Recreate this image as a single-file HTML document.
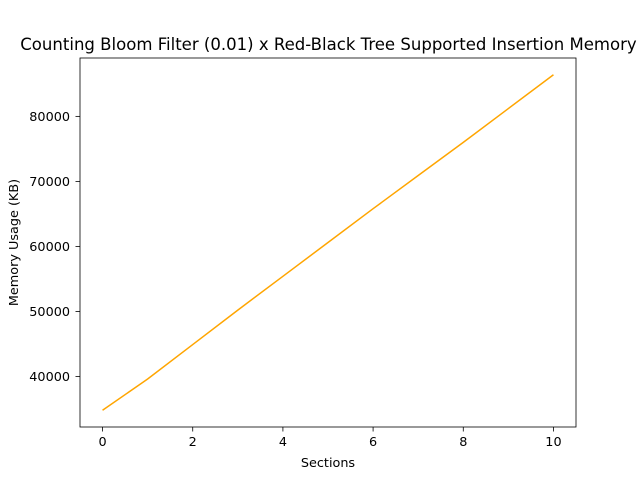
<!DOCTYPE html>
<html><head><meta charset="utf-8"><style>body{margin:0;background:#fff}svg{display:block}text{font-family:"DejaVu Sans","Liberation Sans",sans-serif;fill:#000}</style></head>
<body>
<svg id="c" width="640" height="480" xmlns="http://www.w3.org/2000/svg"></svg>
<script>
const xs=[0,1,2,3,4,5,6,7,8,9,10];
const memory=[34800,39600,44900,50200,55400,60600,65800,70900,76000,81200,86400];
const xTicks=[0,2,4,6,8,10];
const yTicks=[40000,50000,60000,70000,80000];
const L=80,R=576,T=58,B=427;
const xmin=-0.5,xmax=10.5,ymin=32220,ymax=88980;
const X=v=>L+(v-xmin)/(xmax-xmin)*(R-L);
const Y=v=>B-(v-ymin)/(ymax-ymin)*(B-T);
const svg=document.getElementById('c');
const NS='http://www.w3.org/2000/svg';
function mk(t,a,txt){const e=document.createElementNS(NS,t);for(const k in a)e.setAttribute(k,a[k]);if(txt!==undefined)e.textContent=txt;svg.appendChild(e);return e;}
let p=mk('polyline',{points:xs.map((x,i)=>X(x)+','+Y(memory[i])).join(' '),fill:'none',stroke:'#ffa500','stroke-width':1.5});


let f=mk('rect',{x:L,y:T,width:R-L,height:B-T,fill:'none',stroke:'#000','stroke-width':0.8});


xTicks.forEach(v=>{const x=X(v);
 let l=mk('line',{x1:x,x2:x,y1:B,y2:B+4.5,stroke:'#000','stroke-width':0.8});
 
 
 let t=mk('text',{x:x,y:B+19,'font-size':12.8,'text-anchor':'middle'},v);
 
 
});
yTicks.forEach(v=>{const y=Y(v);
 let l=mk('line',{x1:L-4.5,x2:L,y1:y,y2:y,stroke:'#000','stroke-width':0.8});
 
 
 let t=mk('text',{x:L-10,y:y+4.5,'font-size':12.8,'text-anchor':'end'},v);
 
 
});
let xt=mk('text',{x:(L+R)/2,y:467,'font-size':12.8,'text-anchor':'middle'},'Sections');


let yt=mk('text',{x:0,y:0,'font-size':12.8,'text-anchor':'middle',transform:'translate(18,'+((T+B)/2)+') rotate(-90)'},'Memory Usage (KB)');


let ti=mk('text',{x:328.5,y:50,'font-size':16.55,'text-anchor':'middle'},'Counting Bloom Filter (0.01) x Red-Black Tree Supported Insertion Memory');


</script>
</body></html>
